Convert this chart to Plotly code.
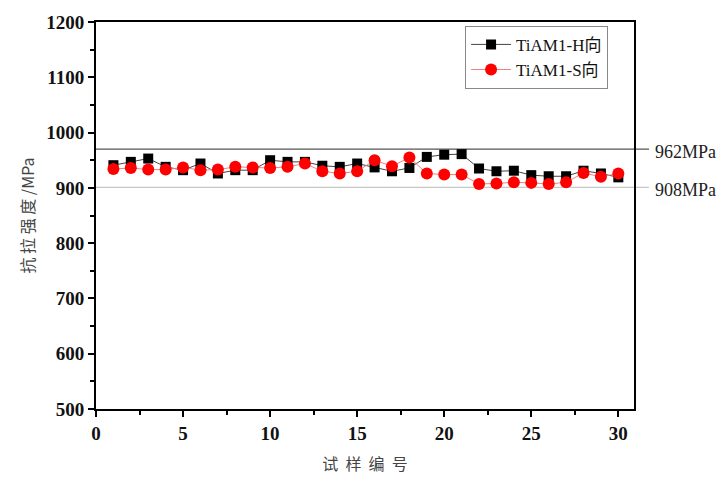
import plotly.graph_objects as go

samples = list(range(1, 31))
h_values = [941, 947, 953, 938, 932, 944, 926, 932, 932, 950,
            947, 947, 940, 938, 944, 937, 930, 936, 956, 960,
            961, 935, 930, 931, 923, 921, 921, 931, 926, 919]
s_values = [934, 936, 933, 933, 937, 932, 933, 938, 937, 936,
            938, 944, 930, 926, 930, 950, 939, 955, 926, 924,
            924, 907, 908, 910, 909, 907, 910, 927, 920, 926]
ref_lines = [970, 901]
ref_labels = ["962MPa", "908MPa"]
series_names = ["TiAM1-H向", "TiAM1-S向"]
x_ticks = [0, 5, 10, 15, 20, 25, 30]
y_ticks = [500, 600, 700, 800, 900, 1000, 1100, 1200]

serif = "Liberation Serif, Times New Roman, Noto Sans CJK SC, serif"

fig = go.Figure()
fig.add_trace(go.Scatter(
    x=samples, y=h_values, name=series_names[0], mode="lines+markers",
    line=dict(color="#444444", width=1),
    marker=dict(symbol="square", size=10, color="black"),
))
fig.add_trace(go.Scatter(
    x=samples, y=s_values, name=series_names[1], mode="lines+markers",
    line=dict(color="#f08080", width=1),
    marker=dict(symbol="circle", size=12, color="#ff0000"),
))

line_colors = ["#555555", "#c8c8c8"]
for val, lab, col in zip(ref_lines, ref_labels, line_colors):
    fig.add_shape(type="line", xref="paper", yref="y", x0=0, x1=1.028,
                  y0=val, y1=val, line=dict(color=col, width=1.3), layer="below")
    fig.add_annotation(xref="paper", yref="y", x=1.035, y=val - 5, text=lab,
                       showarrow=False, xanchor="left", yanchor="middle",
                       font=dict(family=serif, size=18, color="#222222"))

axis_common = dict(
    showline=True, linecolor="black", linewidth=2, mirror=True,
    ticks="outside", ticklen=6, tickwidth=2, tickcolor="black",
    showgrid=False, zeroline=False,
    tickfont=dict(family=serif, size=19, color="#111111"),
)

fig.update_xaxes(
    range=[0, 30.9], tickvals=x_ticks, ticktext=[f"<b>{v}</b>" for v in x_ticks],
    minor=dict(ticks="outside", ticklen=4, tickwidth=1.5, tickcolor="black", dtick=2.5, tick0=0),
    title=dict(text="试  样  编  号", font=dict(family="Noto Sans CJK SC", size=16, color="#444444"), standoff=16),
    **axis_common,
)
fig.update_yaxes(
    range=[500, 1200], tickvals=y_ticks, ticktext=[f"<b>{v}</b>" for v in y_ticks],
    minor=dict(ticks="outside", ticklen=4, tickwidth=1.5, tickcolor="black", dtick=50, tick0=500),
    title=dict(text="抗 拉 强 度 /MPa", font=dict(family="Noto Sans CJK SC", size=16, color="#444444"), standoff=8),
    **axis_common,
)

fig.update_layout(
    width=727, height=483,
    margin=dict(l=96, r=93, t=14, b=72),
    paper_bgcolor="white", plot_bgcolor="white",
    legend=dict(x=0.686, y=0.99, xanchor="left", yanchor="top",
                bordercolor="#888888", borderwidth=1, bgcolor="white",
                font=dict(family=serif, size=17, color="#111111"),
                tracegroupgap=0, itemwidth=40),
)

fig.write_html("out.html")
